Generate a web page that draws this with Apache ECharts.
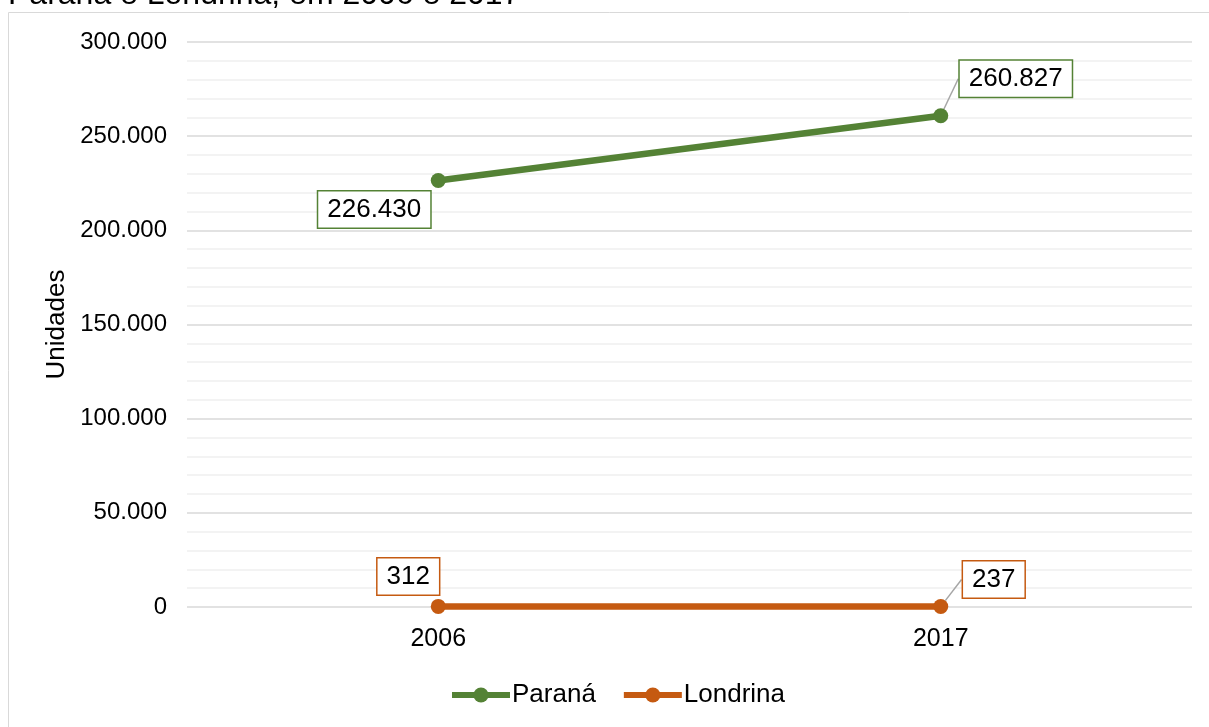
<!DOCTYPE html>
<html>
<head>
<meta charset="utf-8">
<script src="https://cdn.jsdelivr.net/npm/echarts@6/dist/echarts.min.js"></script>
<style>
    html, body { margin: 0; padding: 0; background: #fff; }
    #chart { width: 1209px; height: 727px; }
</style>
</head>
<body>
<div id="chart"></div>
<script>
// dados do gráfico
const anos = ['2006', '2017'];
const parana = [226430, 260827];
const londrina = [312, 237];
const eixoY = { min: 0, max: 300000, intervalo: 50000 };

// deslocamento dos rótulos de dados (em px, a partir do ponto)
const deslocParana = [[-64, 29], [75, -37]];
const deslocLondrina = [[-30, -30], [53, -27]];
// linha de chamada só nos rótulos mais afastados
const chamadaParana = [false, true];
const chamadaLondrina = [false, true];

const verde = '#548235';
const laranja = '#C55A11';
const fonte = 'Liberation Sans, Arial, sans-serif';

// formato brasileiro: 260.827
function formatar(v) {
    return String(v).replace(/\B(?=(\d{3})+(?!\d))/g, '.');
}

function rotulo(cor) {
    return {
        show: true,
        position: 'inside',
        formatter: function(p) { return formatar(p.value); },
        color: '#000',
        fontFamily: fonte,
        fontSize: 26,
        backgroundColor: '#fff',
        borderColor: cor,
        borderWidth: 1.5,
        padding: [6, 9, 4, 9]
    };
}

function montarDados(valores, chamadas) {
    return valores.map(function(v, i) {
        return { value: v, labelLine: { show: chamadas[i] } };
    });
}

let myChart = echarts.init(document.getElementById('chart'));
myChart.setOption({
    animation: false,
    graphic: [
        {
            type: 'text',
            left: 8,
            top: -21,
            style: { text: 'Paraná e Londrina, em 2006 e 2017', font: '32px ' + fonte, fill: '#000' }
        },
        {
            type: 'rect',
            shape: { x: 8.5, y: 12.5, width: 1300, height: 800 },
            style: { fill: 'none', stroke: '#d9d9d9', lineWidth: 1 },
            silent: true
        }
    ],
    grid: { left: 187, right: 17, top: 42, bottom: 120 },
    legend: {
        bottom: 14,
        left: 444,
        itemWidth: 58,
        itemHeight: 19,
        itemGap: 25,
        lineStyle: { width: 6 },
        textStyle: { fontFamily: fonte, fontSize: 26, color: '#000', padding: [0, 0, 0, -3] },
        data: ['Paraná', 'Londrina']
    },
    xAxis: {
        type: 'category',
        data: anos,
        boundaryGap: true,
        axisLine: { show: false },
        axisTick: { show: false },
        axisLabel: { fontFamily: fonte, fontSize: 25, color: '#000', margin: 20 }
    },
    yAxis: {
        type: 'value',
        min: eixoY.min,
        max: eixoY.max,
        interval: eixoY.intervalo,
        name: 'Unidades',
        nameLocation: 'middle',
        nameGap: 108,
        nameTextStyle: { fontFamily: fonte, fontSize: 26, color: '#000' },
        axisLine: { show: false },
        axisTick: { show: false },
        axisLabel: { fontFamily: fonte, fontSize: 24, color: '#000', margin: 20, formatter: formatar },
        splitLine: { lineStyle: { color: '#d9d9d9', width: 1.5 } },
        minorTick: { show: false, splitNumber: 5 },
        minorSplitLine: { show: true, lineStyle: { color: '#f0f0f0', width: 1.5 } }
    },
    series: [
        {
            name: 'Paraná',
            type: 'line',
            data: montarDados(parana, chamadaParana),
            symbol: 'circle',
            symbolSize: 15,
            lineStyle: { color: verde, width: 6.5 },
            itemStyle: { color: verde },
            label: rotulo(verde),
            labelLine: { show: true, lineStyle: { color: '#a6a6a6', width: 1.5 } },
            z: 3
        },
        {
            name: 'Londrina',
            type: 'line',
            data: montarDados(londrina, chamadaLondrina),
            symbol: 'circle',
            symbolSize: 15,
            lineStyle: { color: laranja, width: 6.5 },
            itemStyle: { color: laranja },
            label: rotulo(laranja),
            labelLine: { show: true, lineStyle: { color: '#a6a6a6', width: 1.5 } },
            z: 3
        }
    ],
    labelLayout: function(params) {
        const d = params.seriesIndex === 0 ? deslocParana : deslocLondrina;
        const off = d[params.dataIndex];
        return { dx: off[0], dy: off[1] };
    }
});
</script>
</body>
</html>
